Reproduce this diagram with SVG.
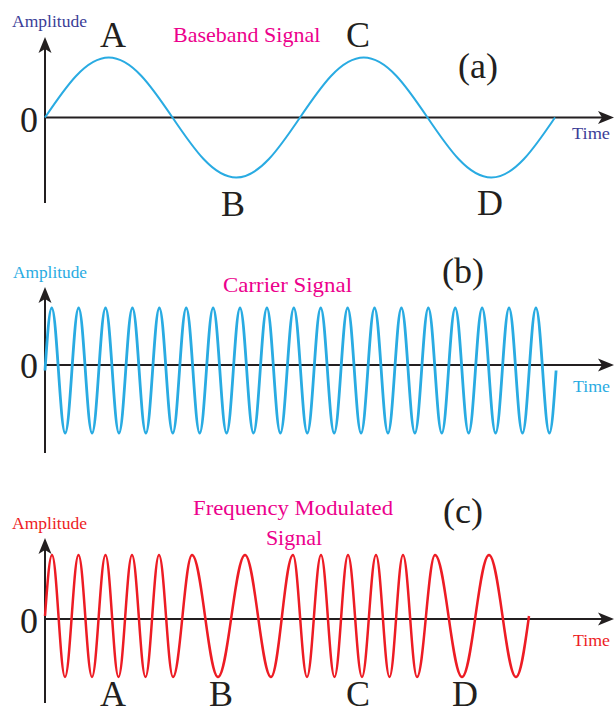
<svg xmlns="http://www.w3.org/2000/svg" xmlns:xlink="http://www.w3.org/1999/xlink" width="614" height="713" viewBox="0 0 614 713">
<style>
  .axis { stroke:#231f20; stroke-width:2; fill:none; }
  .ah { fill:#231f20; }
  .big { font-family:"Liberation Serif","Times New Roman",serif; font-size:36px; fill:#231f20; text-anchor:middle; }
  .title { font-family:"Liberation Serif","Times New Roman",serif; font-size:22px; fill:#ec008c; }
  .small { font-family:"Liberation Serif","Times New Roman",serif; font-size:17px; }
  .wa { stroke:#29abe2; stroke-width:2; fill:none; }
  .wb { stroke:#29abe2; stroke-width:2.8; fill:none; }
  .wc { stroke:#ed1c24; stroke-width:2.5; fill:none; }
</style>
<defs>
  <path id="ah" d="M0,0 L-16,-6.5 L-12,0 L-16,6.5 Z"/>
</defs>
<rect width="614" height="713" fill="#ffffff"/>

<g id="connectors">
  <line class="axis" x1="45" y1="203" x2="45" y2="46"/>
  <line class="axis" x1="45" y1="117.5" x2="604" y2="117.5"/>
  <use href="#ah" class="ah" transform="translate(45,37) rotate(-90)"/>
  <use href="#ah" class="ah" transform="translate(614,117.5)"/>
  <line class="axis" x1="45" y1="453" x2="45" y2="296"/>
  <line class="axis" x1="45" y1="365" x2="604" y2="365"/>
  <use href="#ah" class="ah" transform="translate(45,287) rotate(-90)"/>
  <use href="#ah" class="ah" transform="translate(614,365)"/>
  <line class="axis" x1="45" y1="703" x2="45" y2="547"/>
  <line class="axis" x1="45" y1="619" x2="604" y2="619"/>
  <use href="#ah" class="ah" transform="translate(45,538) rotate(-90)"/>
  <use href="#ah" class="ah" transform="translate(614,619)"/>
</g>

<g id="panel-a">
  <path class="wa" d="M45,117.5 c20.79,-30.74 40.78,-60 63.75,-60 s42.96,29.26 63.75,60 s40.78,60 63.75,60 s42.96,-29.26 63.75,-60 s40.78,-60 63.75,-60 s42.96,29.26 63.75,60 s40.78,60 63.75,60 s42.96,-29.26 63.75,-60"/>
  <text class="small" x="12" y="27" fill="#3b3d97" textLength="75" lengthAdjust="spacingAndGlyphs">Amplitude</text>
  <text class="small" x="572" y="139" fill="#3b3d97" textLength="38" lengthAdjust="spacingAndGlyphs">Time</text>
  <text class="title" x="173" y="42">Baseband Signal</text>
  <text class="big" x="113" y="47">A</text>
  <text class="big" x="358" y="47">C</text>
  <text class="big" x="233" y="216">B</text>
  <text class="big" x="490" y="215">D</text>
  <text class="big" x="478" y="78">(a)</text>
  <text class="big" x="29" y="132">0</text>
</g>

<g id="panel-b">
  <path class="wb" d="M45,370.5 c2.19,-32.02 4.3,-62.5 6.725,-62.5 s4.53,30.48 6.725,62.5 s4.3,62.5 6.725,62.5 s4.53,-30.48 6.725,-62.5
  s4.3,-62.5 6.725,-62.5 s4.53,30.48 6.725,62.5 s4.3,62.5 6.725,62.5 s4.53,-30.48 6.725,-62.5
  s4.3,-62.5 6.725,-62.5 s4.53,30.48 6.725,62.5 s4.3,62.5 6.725,62.5 s4.53,-30.48 6.725,-62.5
  s4.3,-62.5 6.725,-62.5 s4.53,30.48 6.725,62.5 s4.3,62.5 6.725,62.5 s4.53,-30.48 6.725,-62.5
  s4.3,-62.5 6.725,-62.5 s4.53,30.48 6.725,62.5 s4.3,62.5 6.725,62.5 s4.53,-30.48 6.725,-62.5
  s4.3,-62.5 6.725,-62.5 s4.53,30.48 6.725,62.5 s4.3,62.5 6.725,62.5 s4.53,-30.48 6.725,-62.5
  s4.3,-62.5 6.725,-62.5 s4.53,30.48 6.725,62.5 s4.3,62.5 6.725,62.5 s4.53,-30.48 6.725,-62.5
  s4.3,-62.5 6.725,-62.5 s4.53,30.48 6.725,62.5 s4.3,62.5 6.725,62.5 s4.53,-30.48 6.725,-62.5
  s4.3,-62.5 6.725,-62.5 s4.53,30.48 6.725,62.5 s4.3,62.5 6.725,62.5 s4.53,-30.48 6.725,-62.5
  s4.3,-62.5 6.725,-62.5 s4.53,30.48 6.725,62.5 s4.3,62.5 6.725,62.5 s4.53,-30.48 6.725,-62.5
  s4.3,-62.5 6.725,-62.5 s4.53,30.48 6.725,62.5 s4.3,62.5 6.725,62.5 s4.53,-30.48 6.725,-62.5
  s4.3,-62.5 6.725,-62.5 s4.53,30.48 6.725,62.5 s4.3,62.5 6.725,62.5 s4.53,-30.48 6.725,-62.5
  s4.3,-62.5 6.725,-62.5 s4.53,30.48 6.725,62.5 s4.3,62.5 6.725,62.5 s4.53,-30.48 6.725,-62.5
  s4.3,-62.5 6.725,-62.5 s4.53,30.48 6.725,62.5 s4.3,62.5 6.725,62.5 s4.53,-30.48 6.725,-62.5
  s4.3,-62.5 6.725,-62.5 s4.53,30.48 6.725,62.5 s4.3,62.5 6.725,62.5 s4.53,-30.48 6.725,-62.5
  s4.3,-62.5 6.725,-62.5 s4.53,30.48 6.725,62.5 s4.3,62.5 6.725,62.5 s4.53,-30.48 6.725,-62.5
  s4.3,-62.5 6.725,-62.5 s4.53,30.48 6.725,62.5 s4.3,62.5 6.725,62.5 s4.53,-30.48 6.725,-62.5
  s4.3,-62.5 6.725,-62.5 s4.53,30.48 6.725,62.5 s4.3,62.5 6.725,62.5 s4.53,-30.48 6.725,-62.5
  s4.3,-62.5 6.725,-62.5 s4.53,30.48 6.725,62.5 s4.3,62.5 6.725,62.5 s4.53,-30.48 6.725,-62.5"/>
  <text class="small" x="13" y="278" fill="#29abe2" textLength="74" lengthAdjust="spacingAndGlyphs">Amplitude</text>
  <text class="small" x="573" y="392" fill="#29abe2" textLength="37" lengthAdjust="spacingAndGlyphs">Time</text>
  <text class="title" x="223" y="292" textLength="129" lengthAdjust="spacingAndGlyphs">Carrier Signal</text>
  <text class="big" x="463" y="283">(b)</text>
  <text class="big" x="29" y="378">0</text>
</g>

<g id="panel-c">
  <path class="wc" d="M45,616 C47.28,584.75 49.48,555 52,555
  C54.34,555 56.38,584.75 58.5,616 C60.62,647.25 62.66,677 65,677
  C67.43,677 69.55,647.25 71.75,616 C73.95,584.75 76.07,555 78.5,555
  C80.93,555 83.05,584.75 85.25,616 C87.45,647.25 89.57,677 92,677
  C94.43,677 96.55,647.25 98.75,616 C100.95,584.75 103.07,555 105.5,555
  C107.84,555 109.88,584.75 112,616 C114.12,647.25 116.16,677 118.5,677
  C120.93,677 123.05,647.25 125.25,616 C127.45,584.75 129.57,555 132,555
  C134.43,555 136.55,584.75 138.75,616 C140.95,647.25 143.07,677 145.5,677
  C147.93,677 150.05,647.25 152.25,616 C154.45,584.75 156.57,555 159,555
  C161.52,555 163.72,584.75 166,616 C168.28,647.25 170.48,677 173,677
  C176.42,677 179.40,647.25 182.5,616 C185.60,584.75 188.58,555 192,555
  C196.68,555 200.76,584.75 205,616 C209.24,647.25 213.32,677 218,677
  C222.86,677 227.10,647.25 231.5,616 C235.90,584.75 240.14,555 245,555
  C249.68,555 253.76,584.75 258,616 C262.24,647.25 266.32,677 271,677
  C274.96,677 278.41,647.25 282,616 C285.59,584.75 289.04,555 293,555
  C295.52,555 297.72,584.75 300,616 C302.28,647.25 304.48,677 307,677
  C309.52,677 311.72,647.25 314,616 C316.28,584.75 318.48,555 321,555
  C323.43,555 325.55,584.75 327.75,616 C329.95,647.25 332.07,677 334.5,677
  C336.93,677 339.05,647.25 341.25,616 C343.45,584.75 345.57,555 348,555
  C350.52,555 352.72,584.75 355,616 C357.28,647.25 359.48,677 362,677
  C364.52,677 366.72,647.25 369,616 C371.28,584.75 373.48,555 376,555
  C378.43,555 380.55,584.75 382.75,616 C384.95,647.25 387.07,677 389.5,677
  C391.93,677 394.05,647.25 396.25,616 C398.45,584.75 400.57,555 403,555
  C405.52,555 407.72,584.75 410,616 C412.28,647.25 414.48,677 417,677
  C420.24,677 423.07,647.25 426,616 C428.93,584.75 431.76,555 435,555
  C439.86,555 444.10,584.75 448.5,616 C452.90,647.25 457.14,677 462,677
  C466.86,677 471.10,647.25 475.5,616 C479.90,584.75 484.14,555 489,555
  C493.86,555 498.10,584.75 502.5,616 C506.90,647.25 511.14,677 516,677
  C520.68,677 524.76,647.25 529,616"/>
  <text class="small" x="12" y="529" fill="#ed1c24" textLength="75" lengthAdjust="spacingAndGlyphs">Amplitude</text>
  <text class="small" x="573" y="646" fill="#ed1c24" textLength="37" lengthAdjust="spacingAndGlyphs">Time</text>
  <text class="title" x="293" y="515" text-anchor="middle" textLength="200" lengthAdjust="spacingAndGlyphs">Frequency Modulated</text>
  <text class="title" x="294" y="545" text-anchor="middle">Signal</text>
  <text class="big" x="463" y="523">(c)</text>
  <text class="big" x="29" y="633">0</text>
  <text class="big" x="113" y="706">A</text>
  <text class="big" x="221" y="706">B</text>
  <text class="big" x="358" y="706">C</text>
  <text class="big" x="465" y="706">D</text>
</g>
</svg>
